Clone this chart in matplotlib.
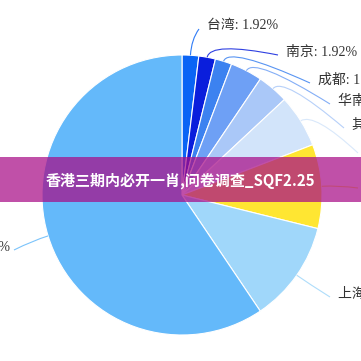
import numpy as np
import matplotlib
matplotlib.use("Agg")
import matplotlib.pyplot as plt
from matplotlib.path import Path
from matplotlib.patches import PathPatch

# data
cities = ['台湾', '南京', '成都', '华南', '其他', '深圳', '广州', '上海', '北京']
shares = [1.92, 1.92, 1.92, 3.70, 3.60, 6.10, 9.70, 11.70, 59.44]
colors = ['#0a64f5', '#0a1edc', '#3c82f0', '#6ea0f5', '#aac8f8',
          '#d2e4fa', '#ffe632', '#a0d7fa', '#64b9fa']

# layout (pixel coords, y down)
W = H = 361
cx, cy, R = 182, 195, 140
label_pos = [(207, 26), (286, 52), (318, 80), (338, 101), (352, 125),
             (366, 150), (366, 185), (338, 294), (10, 247)]
title = '香港三期内必开一肖,问卷调查_SQF2.25'

fig = plt.figure(figsize=(W / 100, H / 100), dpi=100)
ax = fig.add_axes([0, 0, 1, 1])

wedges, _ = ax.pie(shares, colors=colors, startangle=-90, counterclock=True,
                   center=(cx, cy), radius=R,
                   wedgeprops=dict(edgecolor='white', linewidth=0.8))
ax.set_xlim(0, W)
ax.set_ylim(H, 0)
ax.set_aspect('equal')
ax.axis('off')

for w, name, v, (lx, ly), c in zip(wedges, cities, shares, label_pos, colors):
    mid = np.deg2rad((w.theta1 + w.theta2) / 2)
    d = np.array([np.cos(mid), np.sin(mid)])
    p0 = np.array([cx, cy]) + R * d
    p1 = np.array([cx, cy]) + (R + 16) * d
    right = lx > cx
    p2 = np.array([lx - 8 if right else lx + 4, ly + 3])
    path = Path([p0, p1, p2], [Path.MOVETO, Path.CURVE3, Path.CURVE3])
    ax.add_patch(PathPatch(path, fill=False, edgecolor=c, lw=0.8, alpha=0.85))
    ax.text(lx, ly, f'{name}: {v:g}%', ha='left' if right else 'right',
            va='center', fontsize=10, color='#333333',
            family=['Liberation Serif', 'Noto Sans CJK SC'])

ax.axhspan(157, 202, color='#a80c87', alpha=0.72, lw=0)
ax.text(180, 181, title, ha='center', va='center', color='white',
        fontsize=10.8, fontweight='bold',
        family=['Noto Sans CJK SC', 'DejaVu Sans'])

fig.savefig('out.png', dpi=100)
